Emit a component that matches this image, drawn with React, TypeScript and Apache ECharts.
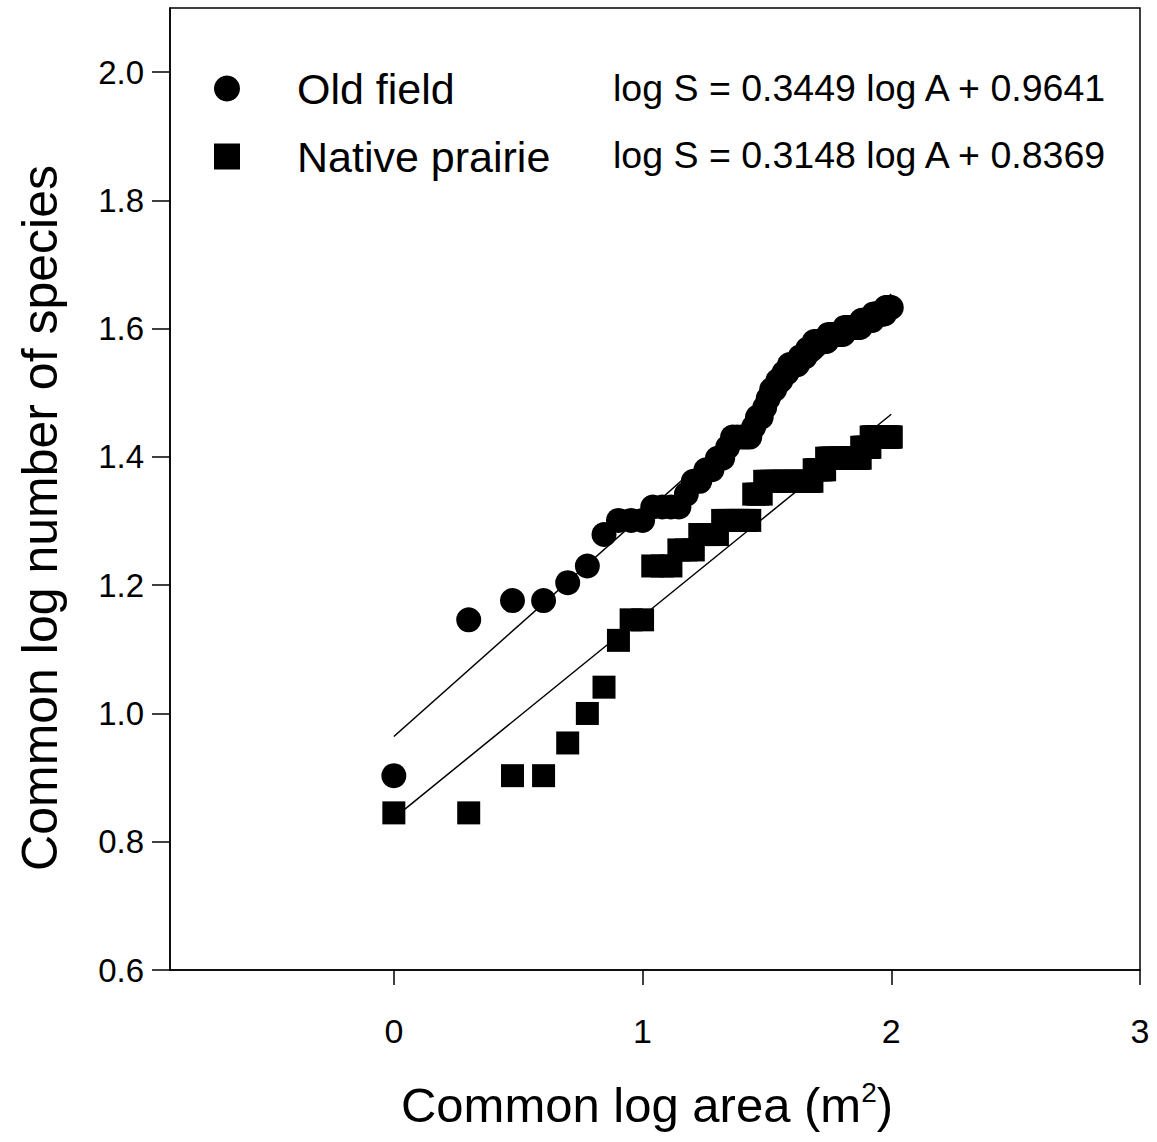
import React, { useEffect, useRef } from "react";
import * as echarts from "echarts";

// log10 of nested plot area (m²), areas 1..100
const logArea = [
  0, 0.301, 0.477, 0.602, 0.699, 0.778, 0.845, 0.903, 0.954, 1,
  1.041, 1.079, 1.114, 1.146, 1.176, 1.204, 1.23, 1.255, 1.279, 1.301,
  1.322, 1.342, 1.362, 1.38, 1.398, 1.415, 1.431, 1.447, 1.462, 1.477,
  1.491, 1.505, 1.519, 1.531, 1.544, 1.556, 1.568, 1.58, 1.591, 1.602,
  1.613, 1.623, 1.633, 1.643, 1.653, 1.663, 1.672, 1.681, 1.69, 1.699,
  1.708, 1.716, 1.724, 1.732, 1.74, 1.748, 1.756, 1.763, 1.771, 1.778,
  1.785, 1.792, 1.799, 1.806, 1.813, 1.82, 1.826, 1.833, 1.839, 1.845,
  1.851, 1.857, 1.863, 1.869, 1.875, 1.881, 1.886, 1.892, 1.898, 1.903,
  1.908, 1.914, 1.919, 1.924, 1.929, 1.934, 1.94, 1.944, 1.949, 1.954,
  1.959, 1.964, 1.968, 1.973, 1.978, 1.982, 1.987, 1.991, 1.996, 2,
];

// log10 number of species, old field
const oldFieldLogS = [
  0.903, 1.146, 1.176, 1.176, 1.204, 1.23, 1.279, 1.301, 1.301, 1.301,
  1.322, 1.322, 1.322, 1.322, 1.342, 1.362, 1.362, 1.38, 1.38, 1.398,
  1.398, 1.415, 1.431, 1.431, 1.431, 1.431, 1.431, 1.447, 1.462, 1.462,
  1.477, 1.491, 1.505, 1.505, 1.519, 1.519, 1.531, 1.531, 1.544, 1.544,
  1.544, 1.544, 1.556, 1.556, 1.556, 1.568, 1.568, 1.568, 1.58, 1.58,
  1.58, 1.58, 1.58, 1.58, 1.58, 1.591, 1.591, 1.591, 1.591, 1.591,
  1.591, 1.591, 1.591, 1.591, 1.602, 1.602, 1.602, 1.602, 1.602, 1.602,
  1.602, 1.602, 1.602, 1.602, 1.602, 1.613, 1.613, 1.613, 1.613, 1.613,
  1.613, 1.613, 1.613, 1.613, 1.623, 1.623, 1.623, 1.623, 1.623, 1.623,
  1.623, 1.623, 1.623, 1.623, 1.633, 1.633, 1.633, 1.633, 1.633, 1.633,
];

// log10 number of species, native prairie
const nativeLogS = [
  0.845, 0.845, 0.903, 0.903, 0.954, 1.0, 1.041, 1.114, 1.146, 1.146,
  1.23, 1.23, 1.23, 1.255, 1.255, 1.255, 1.279, 1.279, 1.279, 1.279,
  1.301, 1.301, 1.301, 1.301, 1.301, 1.301, 1.301, 1.342, 1.342, 1.342,
  1.362, 1.362, 1.362, 1.362, 1.362, 1.362, 1.362, 1.362, 1.362, 1.362,
  1.362, 1.362, 1.362, 1.362, 1.362, 1.362, 1.362, 1.362, 1.38, 1.38,
  1.38, 1.38, 1.38, 1.38, 1.398, 1.398, 1.398, 1.398, 1.398, 1.398,
  1.398, 1.398, 1.398, 1.398, 1.398, 1.398, 1.398, 1.398, 1.398, 1.398,
  1.398, 1.398, 1.398, 1.398, 1.398, 1.415, 1.415, 1.415, 1.415, 1.415,
  1.415, 1.415, 1.431, 1.431, 1.431, 1.431, 1.431, 1.431, 1.431, 1.431,
  1.431, 1.431, 1.431, 1.431, 1.431, 1.431, 1.431, 1.431, 1.431, 1.431,
];

// fitted regression endpoints (x = 0 and x = 2)
const oldFieldFit = [[0, 0.9641], [2, 1.6539]];
const nativeFit = [[0, 0.8369], [2, 1.4665]];

const seriesNames = ["Old field", "Native prairie"];
const equations = [
  "log S = 0.3449 log A + 0.9641",
  "log S = 0.3148 log A + 0.8369",
];
const xTitle = "Common log area (m{sup|2})";
const yTitle = "Common log number of species";
const xTicks = [0, 1, 2, 3];
const yTicks = [0.6, 0.8, 1.0, 1.2, 1.4, 1.6, 1.8, 2.0];

const FONT = "'Liberation Sans', Arial, Helvetica, sans-serif";

export default function App() {
  const ref = useRef<HTMLDivElement>(null);

  useEffect(() => {
    if (!ref.current) return;
    const chart = echarts.init(ref.current, null, { renderer: "svg" });
    const oldData = logArea.map((x, i) => [x, oldFieldLogS[i]]);
    const nativeData = logArea.map((x, i) => [x, nativeLogS[i]]);
    const axisColor = "#000";

    chart.setOption({
      animation: false,
      backgroundColor: "#fff",
      textStyle: { fontFamily: FONT },
      grid: {
        left: 170,
        right: 17,
        top: 8,
        bottom: 172,
        show: true,
        borderColor: "#000",
        borderWidth: 1.5,
      },
      legend: {
        data: seriesNames,
        orient: "vertical",
        left: 209,
        top: 62,
        itemWidth: 26,
        itemHeight: 26,
        itemGap: 25,
        textStyle: {
          fontSize: 43,
          lineHeight: 42,
          color: "#000",
          fontFamily: FONT,
          padding: [0, 0, 0, 52],
        },
      },
      xAxis: {
        type: "value",
        min: -0.9,
        max: 3,
        splitLine: { show: false },
        axisLine: { show: true, onZero: false, lineStyle: { color: axisColor, width: 1.5 } },
        axisTick: {
          show: true,
          length: 15,
          customValues: xTicks,
          lineStyle: { color: axisColor, width: 1.5 },
        },
        axisLabel: {
          customValues: xTicks,
          margin: 44,
          fontSize: 34,
          color: "#000",
          fontFamily: FONT,
        },
      },
      yAxis: {
        type: "value",
        min: 0.6,
        max: 2.1,
        splitLine: { show: false },
        axisLine: { show: true, onZero: false, lineStyle: { color: axisColor, width: 1.5 } },
        axisTick: {
          show: true,
          length: 18,
          customValues: yTicks,
          lineStyle: { color: axisColor, width: 1.5 },
        },
        axisLabel: {
          customValues: yTicks,
          margin: 26,
          fontSize: 33,
          color: "#000",
          fontFamily: FONT,
          formatter: (v: number) => v.toFixed(1),
        },
      },
      graphic: [
        ...equations.map((t, i) => ({
          type: "text",
          x: 613,
          y: i === 0 ? 88 : 155,
          style: {
            text: t,
            fontSize: 37.5,
            fill: "#000",
            fontFamily: FONT,
            verticalAlign: "middle",
          },
        })),
        {
          type: "text",
          x: 40,
          y: 518,
          rotation: Math.PI / 2,
          style: {
            text: yTitle,
            fontSize: 50,
            fill: "#000",
            fontFamily: FONT,
            align: "center",
            verticalAlign: "middle",
          },
        },
        {
          type: "text",
          x: 647,
          y: 1105,
          style: {
            text: xTitle,
            fontSize: 49,
            fill: "#000",
            fontFamily: FONT,
            align: "center",
            verticalAlign: "middle",
            rich: {
              sup: {
                fontSize: 28,
                fill: "#000",
                fontFamily: FONT,
                verticalAlign: "top",
                padding: [0, 0, 26, 0],
              },
            },
          },
        },
      ],
      series: [
        {
          type: "line",
          data: oldFieldFit,
          symbol: "none",
          lineStyle: { color: "#000", width: 1.5 },
          z: 1,
          silent: true,
        },
        {
          type: "line",
          data: nativeFit,
          symbol: "none",
          lineStyle: { color: "#000", width: 1.5 },
          z: 1,
          silent: true,
        },
        {
          name: seriesNames[0],
          type: "scatter",
          data: oldData,
          symbol: "circle",
          symbolSize: 25,
          itemStyle: { color: "#000", opacity: 1 },
          z: 3,
        },
        {
          name: seriesNames[1],
          type: "scatter",
          data: nativeData,
          symbol: "rect",
          symbolSize: 23,
          itemStyle: { color: "#000", opacity: 1 },
          z: 3,
        },
      ],
    });

    return () => chart.dispose();
  }, []);

  return (
    <div
      ref={ref}
      style={{ position: "absolute", left: 0, top: 0, width: 1157, height: 1142 }}
    />
  );
}
